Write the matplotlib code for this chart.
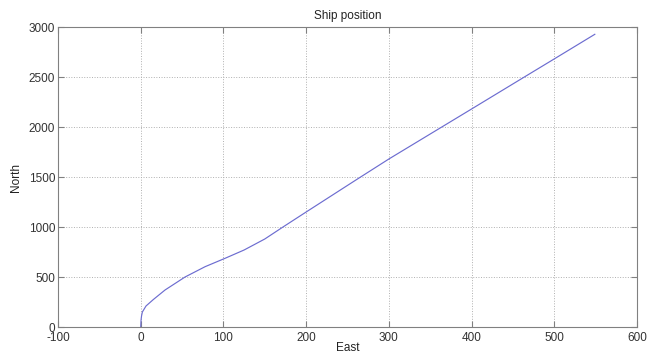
import matplotlib
matplotlib.use("Agg")
import matplotlib.pyplot as plt

east = [0, 0.4, 1.0, 2.0, 6.4, 15.3, 29.4, 53.6, 77.8, 102, 125, 150, 172, 200,
        247, 263, 300, 366, 398, 465, 500, 549]
north = [0, 70, 110, 150, 210, 275, 370, 500, 603, 687, 770, 880, 1000, 1150,
         1400, 1485, 1680, 2010, 2170, 2506, 2681, 2927]
xticks = [-100, 0, 100, 200, 300, 400, 500, 600]
yticks = [0, 500, 1000, 1500, 2000, 2500, 3000]

plt.rcParams['font.family'] = ['Liberation Sans', 'DejaVu Sans']
plt.rcParams['axes.unicode_minus'] = False
fig = plt.figure(figsize=(6.57, 3.54), dpi=100)
ax = fig.add_axes([58/657, 27/354, (637-58)/657, (327-27)/354])
ax.plot(east, north, color='#6c6cd0', lw=0.85, solid_joinstyle='round')
ax.set_xlim(-100, 600)
ax.set_ylim(0, 3000)
ax.set_xticks(xticks)
ax.set_yticks(yticks)
ax.grid(True, linestyle=':', color='#b0b0b0', lw=0.7)
ax.tick_params(direction='in', top=True, right=True, length=4, color='#808080',
               labelsize=8.5, labelcolor='#333333')
ax.tick_params(axis='x', pad=3.5)
ax.tick_params(axis='y', pad=2)
for s in ax.spines.values():
    s.set_color('#808080')
    s.set_linewidth(0.8)
ax.set_title('Ship position', fontsize=8.5, color='#222222', pad=6)
ax.set_xlabel('East', fontsize=8.5, color='#222222', labelpad=-1.5)
ax.set_ylabel('North', fontsize=8.5, color='#222222', labelpad=5)
fig.savefig('out.png', dpi=100)
